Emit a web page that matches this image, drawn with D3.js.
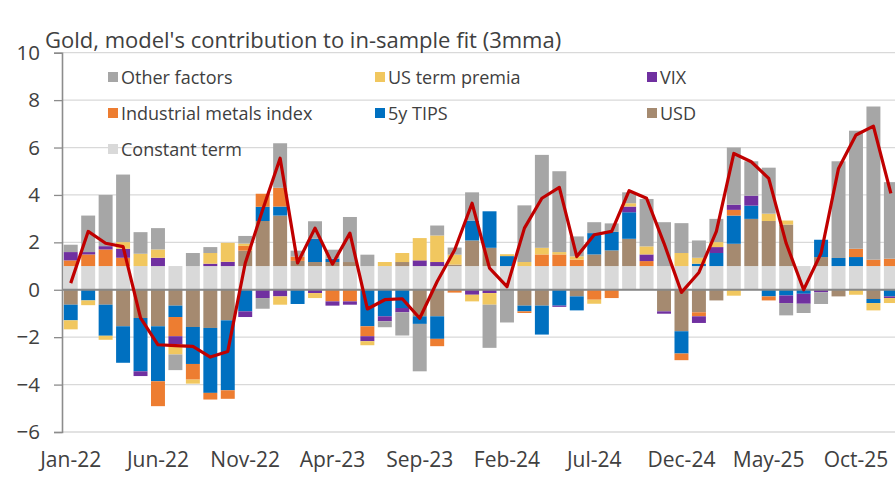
<!DOCTYPE html>
<html>
<head>
<meta charset="utf-8">
<script src="https://cdn.jsdelivr.net/npm/d3@7"></script>
<style>
  body { margin: 0; background: #fff; }
  svg { display: block; font-family: "Open Sans", sans-serif; }
</style>
</head>
<body>
<div id="chart"></div>
<script>
// Monthly categories Jan-22 .. Dec-25 (the picture is cut off on the right)
const months = d3.timeMonths(new Date(2022, 0, 1), new Date(2026, 0, 1)).map(d3.timeFormat("%b-%y"));
const tickLabels = ["Jan-22", "Jun-22", "Nov-22", "Apr-23", "Sep-23", "Feb-24", "Jul-24", "Dec-24", "May-25", "Oct-25"];
const yTicks = [-6, -4, -2, 0, 2, 4, 6, 8, 10];

// Contributions per factor
const constantTerm = [1, 1, 1, 1, 1, 1, 1, 1, 1, 1, 1, 1, 1, 1, 1, 1, 1, 1, 1, 1, 1, 1, 1, 1,
  1, 1, 1, 1, 1, 1, 1, 1, 1, 1, 1, 1, 1, 1, 1, 1, 1, 1, 1, 1, 1, 1, 1, 1];
const usd = [-0.63, 0, -0.63, -1.54, -1.19, -1.54, -0.67, -1.57, -1.61, -1.29, 0.65, 1.9,
  2.13, 0.22, 0.17, 0.17, 0.17, 0, 0, 0.17, -1.12, -1.12, 0.06, 1.08,
  0.77, 0, -0.67, -0.67, 0, -0.28, 0.49, 0.66, 1.15, 0, -0.91, -1.75,
  -0.95, -0.45, 0.94, 1.99, 1.9, 1.75, 0, 0.38, -0.28, 0, -0.39, 0];
const tips = [-0.66, -0.45, -1.31, -1.54, -2.25, -2.32, -0.48, -1.56, -2.74, -2.95, -0.91, 0.6,
  0.38, -0.6, 0.98, 0.14, 0, -1.54, -1.12, -0.77, -0.32, -0.95, 0, 0.84,
  1.54, 0.42, -0.24, -1.22, -0.67, -0.59, 0.9, 0.78, 1.12, 0, 0, -0.94,
  0.1, 0.55, 1.19, 0.56, -0.28, -0.24, -0.17, 0.73, 0.34, 0.38, -0.17, -0.28];
const metals = [0.24, 0.49, 0.7, 0.35, 0, -1.05, -0.81, -0.66, -0.28, -0.36, 0.2, 0.55,
  0.79, 0.18, 0, -0.49, -0.49, -0.42, 0, 0, 0, -0.31, -0.12, 0,
  0, 0, -0.07, 0.49, 0.49, 0.27, -0.42, -0.35, 0, 0.21, 0, -0.28,
  -0.17, 0, 0.24, 0, -0.17, 0, 0, 0, 0, 0.35, 0.27, 0.31];
const vix = [0.35, 0.1, 0.14, 0.38, -0.2, 0.35, -0.35, 0, 0.1, 0.18, -0.24, -0.35,
  -0.28, 0, -0.14, -0.18, -0.14, -0.21, -0.21, -0.18, 0.24, 0.17, 0, -0.21,
  -0.14, 0, 0, 0, -0.05, 0, 0, 0, 0.24, 0.28, -0.1, 0,
  -0.28, 0.25, 0.22, 0.42, 0, -0.32, -0.42, -0.11, 0, 0, 0, -0.07];
const termPremia = [-0.38, -0.2, -0.17, 0.28, 0.52, 0.35, -0.42, -0.17, 0.45, 0.8, 0.1, 0,
  -0.35, 0, -0.21, 0, 0, -0.17, 0.17, 0.38, 0.94, 1.12, 0.42, -0.28,
  -0.49, 0.08, 0.17, 0.28, 0.1, 0.14, -0.17, 0, 0.14, 0.34, 0, 0.55,
  0.25, 0.21, -0.25, 0, 0.31, 0.17, 0, 0, 0, -0.21, -0.31, -0.21];
const otherFactors = [0.31, 1.54, 2.16, 2.85, 0.91, 0.9, -0.66, 0.55, 0.25, 0, 0.32, -0.45,
  1.88, 0.25, 0.74, 0.38, 1.9, 0.48, -0.25, -0.98, -2.0, 0.42, 0.3, 1.19,
  -1.82, -1.38, 2.39, 3.92, 3.41, 0.84, 0.46, 0.36, 0.46, 2.0, 1.85, 1.26,
  0.73, 0.98, 2.41, 1.45, 1.94, -0.52, -0.39, -0.49, 4.08, 4.98, 6.46, 3.23];
// Model fit (red line)
const fit = [0.28, 2.46, 1.96, 1.82, -1.19, -2.32, -2.36, -2.39, -2.84, -2.6, 1.12, 3.37,
  5.55, 1.13, 2.6, 1.08, 2.39, -0.81, -0.42, -0.38, -1.2, 0.35, 1.68, 3.65,
  0.91, 0.13, 2.6, 3.86, 4.32, 1.4, 2.32, 2.46, 4.18, 3.86, 1.96, -0.11,
  0.73, 2.46, 5.75, 5.4, 4.7, 1.96, 0, 1.54, 5.12, 6.53, 6.9, 4.07];

// Series in stacking order (first one sits next to zero)
const series = [
  { key: "Constant term", values: constantTerm, color: "#d9d9d9" },
  { key: "USD", values: usd, color: "#a58a70" },
  { key: "5y TIPS", values: tips, color: "#0070c0" },
  { key: "Industrial metals index", values: metals, color: "#ed7d31" },
  { key: "VIX", values: vix, color: "#7030a0" },
  { key: "US term premia", values: termPremia, color: "#f1c75f" },
  { key: "Other factors", values: otherFactors, color: "#a6a6a6" }
];

const width = 895;
const height = 490;
const margin = { left: 62, top: 52.7, bottom: 58 };

const table = months.map((m, i) => {
  const row = { month: m };
  series.forEach(s => { row[s.key] = s.values[i]; });
  return row;
});

const svg = d3.select("#chart")
  .append("svg")
    .attr("width", width)
    .attr("height", height);

const x = d3.scaleBand()
  .domain(months)
  .range([margin.left, margin.left + months.length * 17.45])
  .paddingInner(0.2)
  .paddingOuter(0.1);

const y = d3.scaleLinear()
  .domain([-6, 10])
  .range([height - margin.bottom, margin.top]);

// Gridlines
svg.append("g")
  .selectAll("line")
  .data(yTicks)
  .join("line")
    .attr("x1", margin.left)
    .attr("x2", width)
    .attr("y1", d => y(d))
    .attr("y2", d => y(d))
    .attr("stroke", "#d9d9d9")
    .attr("stroke-width", 1.3);

// Title
svg.append("text")
  .attr("x", 45)
  .attr("y", 48)
  .style("font-size", "22px")
  .attr("fill", "#404040")
  .text("Gold, model's contribution to in-sample fit (3mma)");

// Stacked bars
const stack = d3.stack()
  .keys(series.map(s => s.key))
  .offset(d3.stackOffsetDiverging);

const layers = stack(table);
const color = d3.scaleOrdinal()
  .domain(series.map(s => s.key))
  .range(series.map(s => s.color));

svg.append("g")
  .selectAll("g")
  .data(layers)
  .join("g")
    .attr("fill", d => color(d.key))
  .selectAll("rect")
  .data(d => d)
  .join("rect")
    .attr("x", d => x(d.data.month))
    .attr("width", x.bandwidth())
    .attr("y", d => y(Math.max(d[0], d[1])))
    .attr("height", d => Math.abs(y(d[0]) - y(d[1])));

// Zero line
svg.append("line")
  .attr("x1", margin.left)
  .attr("x2", width)
  .attr("y1", y(0))
  .attr("y2", y(0))
  .attr("stroke", "#898989")
  .attr("stroke-width", 2.2);

// Y axis
const yAxis = svg.append("g")
  .attr("transform", `translate(${margin.left},0)`)
  .call(d3.axisLeft(y).tickValues(yTicks).tickSize(8).tickPadding(14));
yAxis.select(".domain").attr("stroke", "#8c8c8c").attr("stroke-width", 1.6);
yAxis.selectAll(".tick line").attr("stroke", "#8c8c8c").attr("stroke-width", 1.3);
yAxis.selectAll(".tick text")
  .attr("fill", "#404040")
  .style("font-size", "20.5px")
  .style("font-family", "Open Sans, sans-serif");

// X labels (every fifth month)
svg.append("g")
  .selectAll("text")
  .data(tickLabels)
  .join("text")
    .attr("x", d => x(d) + x.bandwidth() / 2)
    .attr("y", 467)
    .attr("text-anchor", "middle")
    .attr("fill", "#404040")
    .style("font-size", "21px")
    .text(d => d);

// Fit line
const line = d3.line()
  .x((d, i) => x(months[i]) + x.bandwidth() / 2)
  .y(d => y(d));

svg.append("path")
  .datum(fit)
  .attr("d", line)
  .attr("fill", "none")
  .attr("stroke", "#c00000")
  .attr("stroke-width", 3.2)
  .attr("stroke-linejoin", "round");

// Legend, three columns, reversed series order
const legendKeys = series.map(s => s.key).reverse();
const legend = svg.append("g")
  .selectAll("g")
  .data(legendKeys)
  .join("g")
    .attr("transform", (d, i) => `translate(${[108, 375, 647][i % 3]},${77 + Math.floor(i / 3) * 36})`);

legend.append("rect")
  .attr("x", 0)
  .attr("y", -5)
  .attr("width", 10)
  .attr("height", 10)
  .attr("fill", d => color(d));

legend.append("text")
  .attr("x", 13)
  .attr("y", 6.5)
  .attr("fill", "#404040")
  .style("font-size", "18px")
  .text(d => d);
</script>
</body>
</html>
